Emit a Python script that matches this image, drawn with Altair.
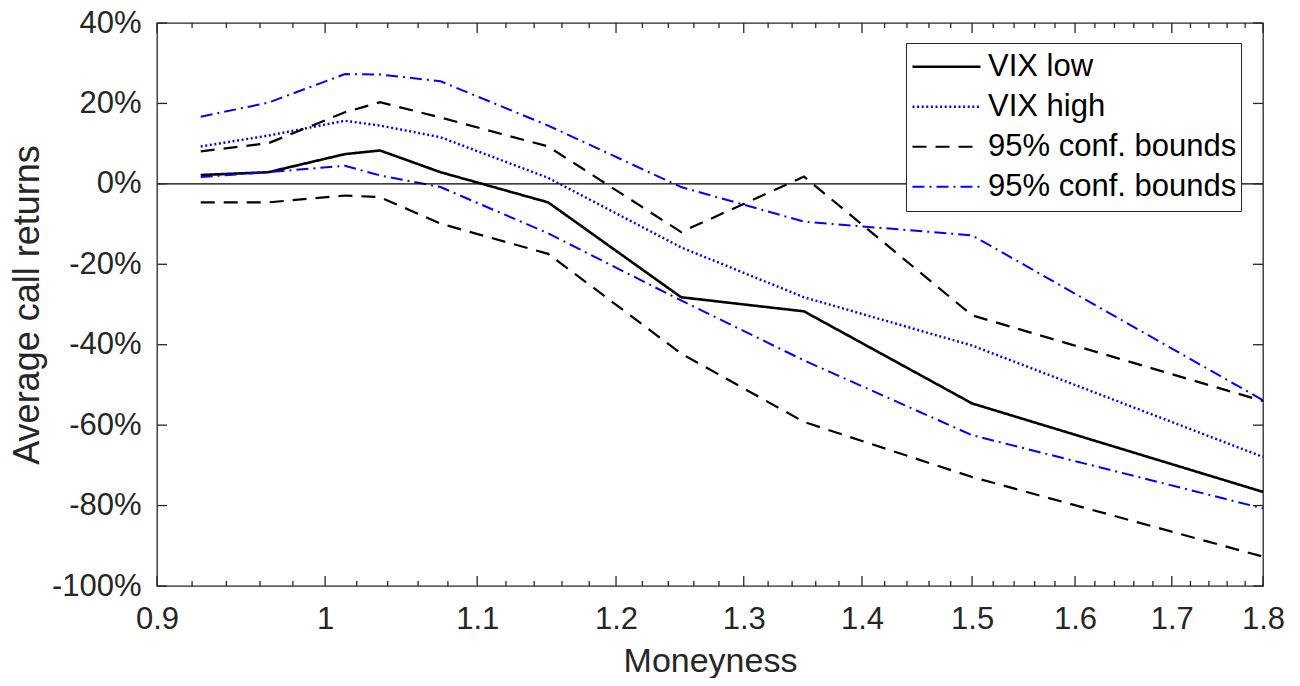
import altair as alt
import pandas as pd

# ---------------- data ----------------
moneyness = [0.925, 0.965, 1.0125, 1.035, 1.075, 1.15, 1.25, 1.35, 1.5, 1.8]
vix_low = [2.2, 2.9, 7.4, 8.3, 2.9, -4.6, -28.2, -31.7, -54.6, -76.6]
vix_high = [9.3, 12.0, 15.7, 14.5, 11.6, 1.5, -15.8, -28.2, -40.2, -67.9]
low_ci_upper = [8.1, 10.1, 17.8, 20.3, 16.5, 9.3, -12.0, 1.8, -32.7, -54.0]
low_ci_lower = [-4.6, -4.6, -2.9, -3.3, -9.9, -17.4, -42.2, -59.2, -72.9, -92.7]
high_ci_upper = [16.7, 20.2, 27.3, 27.2, 25.5, 14.5, -0.8, -9.4, -12.8, -53.8]
high_ci_lower = [1.7, 2.9, 4.5, 2.1, -0.8, -12.3, -29.0, -43.9, -62.5, -80.7]

legend_keys = ["VIX low", "VIX high", "95% conf. bounds", "95% conf. bounds "]
series_colors = ["#000000", "#0000FF", "#000000", "#0000FF"]
series_dashes = [[1, 0], [2, 2.6], [14, 9], [12, 5, 2, 5]]
series_widths = [2.6, 2.0, 1.2, 1.2]

x_major = [0.9, 1, 1.1, 1.2, 1.3, 1.4, 1.5, 1.6, 1.7, 1.8]
x_minor = [round(0.9 + 0.02 * i, 2) for i in range(46) if i % 5 != 0]
y_ticks = [-100, -80, -60, -40, -20, 0, 20, 40]
zero_line = [0]

# ---------------- table ----------------
series = [
    ("low", legend_keys[0], vix_low),
    ("high", legend_keys[1], vix_high),
    ("low_up", legend_keys[2], low_ci_upper),
    ("low_dn", legend_keys[2], low_ci_lower),
    ("high_up", legend_keys[3], high_ci_upper),
    ("high_dn", legend_keys[3], high_ci_lower),
]
rows = []
for sid, key, vals in series:
    for m, v in zip(moneyness, vals):
        rows.append({"series": sid, "style": key, "m": m, "r": v})
df = pd.DataFrame(rows)

W, H = 1106, 563
FONT = "Liberation Sans"
AX = "#262626"
TL = 10   # major tick length
TM = 5    # minor tick length

xscale = alt.Scale(type="log", domain=[0.9, 1.8], nice=False, zero=False)
yscale = alt.Scale(domain=[-100, 40], nice=False, zero=False)

x_axis = alt.Axis(values=x_major, labelExpr="toString(datum.value)", domain=False,
                  ticks=False, grid=False, labelFont=FONT, labelFontSize=31,
                  labelColor=AX, labelPadding=18, labelFlush=False, labelOverlap=False,
                  title="Moneyness", titleFont=FONT, titleFontSize=34,
                  titleFontWeight="normal", titleColor=AX, titlePadding=10)
y_axis = alt.Axis(values=y_ticks, labelExpr="datum.value + '%'", domain=False,
                  ticks=False, grid=False, labelFont=FONT, labelFontSize=31,
                  labelColor=AX, labelPadding=16, labelFlush=False, labelOverlap=False,
                  title="Average call returns", titleFont=FONT, titleFontSize=36,
                  titleFontWeight="normal", titleColor=AX, titlePadding=5)

leg = alt.Legend(orient="none", legendX=749, legendY=20, title=None,
                 symbolType="stroke", symbolSize=4624, labelFont=FONT,
                 labelFontSize=31, labelColor="#000000", labelLimit=0,
                 labelExpr="trim(datum.label)", strokeColor=AX, fillColor="white",
                 padding=4, rowPadding=0, clipHeight=39.5, labelOffset=6, symbolOffset=1)

zero = alt.Chart(pd.DataFrame({"z": zero_line})).mark_rule(color="#000000", strokeWidth=1.2).encode(
    y=alt.Y("z:Q", scale=yscale, axis=y_axis),
    x=alt.value(0), x2=alt.value(W))

lines = alt.Chart(df).mark_line(strokeCap="butt").encode(
    x=alt.X("m:Q", scale=xscale, axis=x_axis),
    y=alt.Y("r:Q", scale=yscale, axis=y_axis),
    detail="series:N",
    color=alt.Color("style:N", scale=alt.Scale(domain=legend_keys, range=series_colors), legend=leg),
    strokeDash=alt.StrokeDash("style:N", scale=alt.Scale(domain=legend_keys, range=series_dashes), legend=leg),
    strokeWidth=alt.StrokeWidth("style:N", scale=alt.Scale(domain=legend_keys, range=series_widths), legend=leg),
    order=alt.Order("m:Q"),
)

xmaj = pd.DataFrame({"t": x_major})
xmin = pd.DataFrame({"t": x_minor})
yt = pd.DataFrame({"t": y_ticks})

def xticks(d, length, top):
    y0 = 0 if top else H
    y1 = length if top else H - length
    return alt.Chart(d).mark_rule(color=AX, strokeWidth=1.3).encode(
        x=alt.X("t:Q", scale=xscale, axis=x_axis), y=alt.value(y0), y2=alt.value(y1))

def yticks(d, length, right):
    x0 = W if right else 0
    x1 = W - length if right else length
    return alt.Chart(d).mark_rule(color=AX, strokeWidth=1.3).encode(
        y=alt.Y("t:Q", scale=yscale, axis=y_axis), x=alt.value(x0), x2=alt.value(x1))

chart = alt.layer(
    lines,
    zero,
    xticks(xmaj, TL, False), xticks(xmaj, TL, True),
    xticks(xmin, TM, False), xticks(xmin, TM, True),
    yticks(yt, TL, False), yticks(yt, TL, True),
).properties(
    width=W, height=H,
    autosize=alt.AutoSizeParams(type="none"),
    padding={"left": 149, "top": 15, "right": 28, "bottom": 92},
    background="white",
).configure_view(stroke=AX, strokeWidth=1.3)

chart.save("out.html", embed_options={"renderer": "svg", "actions": False})
